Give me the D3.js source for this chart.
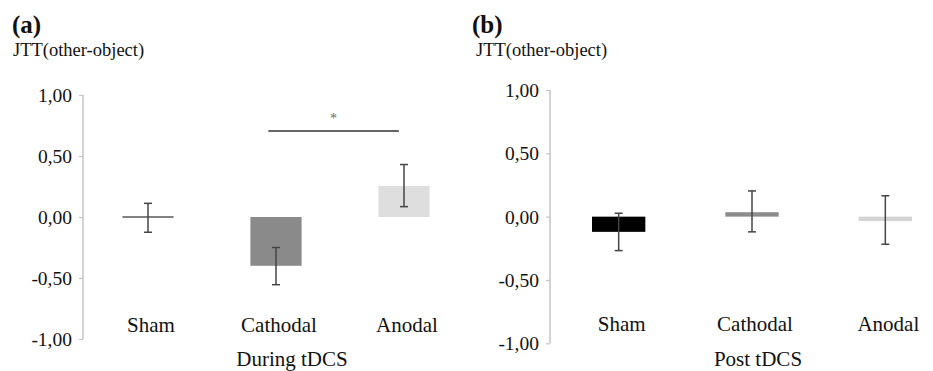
<!DOCTYPE html>
<html><head><meta charset="utf-8">
<script src="https://cdn.jsdelivr.net/npm/d3@7"></script>
<style>body{margin:0;background:#fff}svg{display:block}</style>
</head><body>
<svg id="c" width="933" height="371"></svg>
<script>
const categories = ["Sham", "Cathodal", "Anodal"];
const yTicks = [1, 0.5, 0, -0.5, -1];
const tickLabels = ["1,00", "0,50", "0,00", "-0,50", "-1,00"];
// Panel (a): During tDCS
const duringMeans = [0.00, -0.40, 0.255];
const duringErrHi = [0.112, -0.25, 0.43];
const duringErrLo = [-0.125, -0.555, 0.085];
const duringColors = ["#5a5a5a", "#8a8a8a", "#dedede"];
// Panel (b): Post tDCS
const postMeans = [-0.12, 0.035, -0.035];
const postErrHi = [0.027, 0.203, 0.165];
const postErrLo = [-0.268, -0.12, -0.218];
const postColors = ["#000000", "#8c8c8c", "#d4d4d4"];
const sigPair = ["Cathodal", "Anodal"];
const sigLevel = 0.705;

const SERIF = "'Liberation Serif', 'Times New Roman', Times, serif";
const svg = d3.select("#c");
const defs = svg.append("defs");
defs.append("filter").attr("id","soft").append("feGaussianBlur").attr("stdDeviation",0.7);

function panel(o) {
  const g = svg.append("g").attr("font-family", SERIF).attr("fill", "#111");
  const y = d3.scaleLinear().domain([-1, 1]).range([o.yBot, o.yTop]);
  const x = d3.scalePoint().domain(categories).range([o.x0, o.x1]).padding(0.5);
  const step = x.step(), bw = step * 0.4;

  const ax = d3.axisLeft(y).tickValues(yTicks).tickSize(4).tickPadding(7)
    .tickFormat((d, i) => tickLabels[i]);
  const ag = g.append("g").attr("transform", `translate(${o.axX},0)`).call(ax)
    .attr("font-family", SERIF).attr("font-size", 19.5);
  ag.select(".domain").attr("stroke", "#c4c4c4").attr("stroke-width", 1.5).attr("d", `M0,${o.yTop}V${o.yBot}`);
  ag.selectAll(".tick line").attr("stroke", "#c4c4c4").attr("stroke-width", 1.2);
  ag.selectAll(".tick text").attr("fill", "#111").attr("dy", "0.34em");

  const data = categories.map((c, i) => ({c, v: o.means[i], hi: o.hi[i], lo: o.lo[i], col: o.colors[i]}));
  g.selectAll("rect.bar").data(data).join("rect").attr("class", "bar")
    .attr("x", d => x(d.c) - bw / 2).attr("width", bw)
    .attr("y", d => Math.min(y(d.v), y(0)) - (d.v === 0 ? 0.75 : 0))
    .attr("height", d => Math.max(Math.abs(y(d.v) - y(0)), d.v === 0 ? 1.5 : 0))
    .attr("fill", d => d.col).attr("filter", "url(#soft)");

  const eg = g.selectAll("g.err").data(data).join("g").attr("class", "err")
    .attr("stroke", "#454545").attr("stroke-width", 1.5);
  eg.append("line").attr("x1", d => x(d.c)).attr("x2", d => x(d.c)).attr("y1", d => y(d.hi)).attr("y2", d => y(d.lo));
  eg.append("line").attr("x1", d => x(d.c) - 4).attr("x2", d => x(d.c) + 4).attr("y1", d => y(d.hi)).attr("y2", d => y(d.hi));
  eg.append("line").attr("x1", d => x(d.c) - 4).attr("x2", d => x(d.c) + 4).attr("y1", d => y(d.lo)).attr("y2", d => y(d.lo));

  g.selectAll("text.cat").data(categories).join("text").attr("class", "cat")
    .attr("x", d => x(d) + 3).attr("y", o.catY).attr("text-anchor", "middle")
    .attr("font-size", 21).text(d => d);
  g.append("text").attr("x", o.titleX).attr("y", o.titleY).attr("text-anchor", "middle")
    .attr("font-size", 21).text(o.xTitle);
  g.append("text").attr("x", o.labX).attr("y", 33).attr("font-size", 25).attr("font-weight", "bold").text(o.label);
  g.append("text").attr("x", o.labX + o.jttDx).attr("y", 56).attr("font-size", 18.5).text("JTT(other-object)");

  if (o.sig) {
    const xa = x(sigPair[0]) - step * 0.06, xb = x(sigPair[1]) - step * 0.04;
    g.append("line").attr("x1", xa).attr("x2", xb).attr("y1", y(sigLevel)).attr("y2", y(sigLevel))
      .attr("stroke", "#333").attr("stroke-width", 1.4);
    g.append("text").attr("x", (xa + xb) / 2).attr("y", y(sigLevel) - 8).attr("text-anchor", "middle")
      .attr("font-size", 14).attr("fill", "#666").text("*");
  }
}

panel({axX: 83, x0: 84, x1: 468, yTop: 95, yBot: 339, means: duringMeans, hi: duringErrHi, lo: duringErrLo,
  colors: duringColors, catY: 332, xTitle: "During tDCS", titleX: 292, titleY: 366, label: "(a)", labX: 12, jttDx: 1, sig: true});
panel({axX: 550, x0: 552, x1: 952, yTop: 90, yBot: 343.3, means: postMeans, hi: postErrHi, lo: postErrLo,
  colors: postColors, catY: 331, xTitle: "Post tDCS", titleX: 758, titleY: 366, label: "(b)", labX: 472, jttDx: 4, sig: false});
</script>
</body></html>
